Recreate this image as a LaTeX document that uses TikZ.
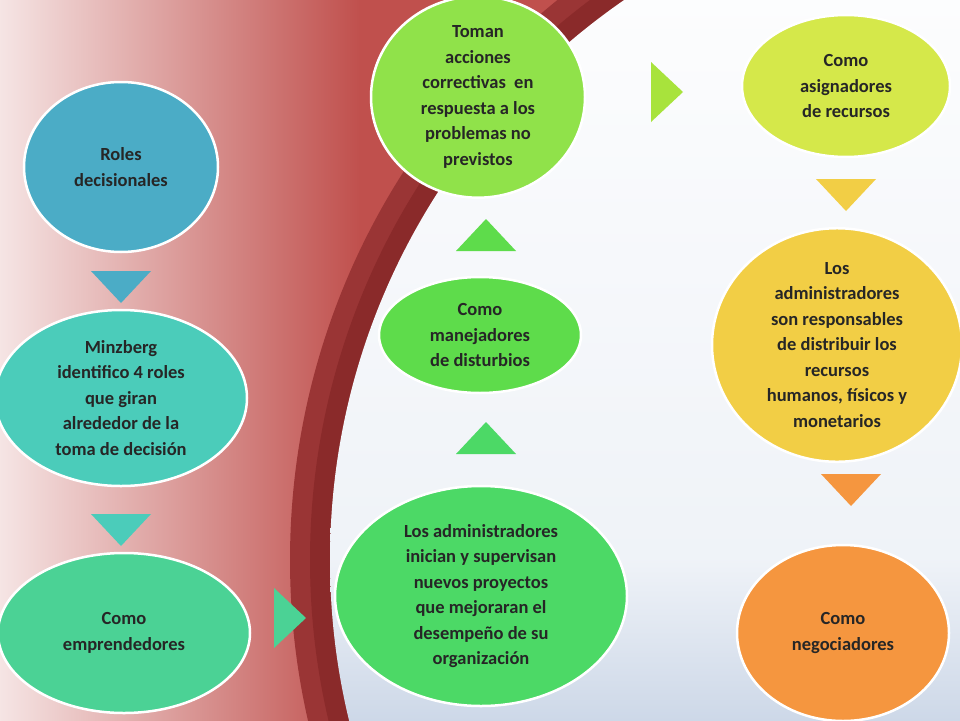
\documentclass[tikz,border=0pt]{standalone}
\usepackage{fontspec}
\setmainfont{Carlito}
\usetikzlibrary{shapes.geometric}
\definecolor{cA}{HTML}{4BACC6}
\definecolor{cB}{HTML}{4BCCBA}
\definecolor{cC}{HTML}{4BD295}
\definecolor{cD}{HTML}{4CD966}
\definecolor{cE}{HTML}{5EDC4B}
\definecolor{cF}{HTML}{90E24A}
\definecolor{cG}{HTML}{D5E84A}
\definecolor{cH}{HTML}{F2CE45}
\definecolor{cI}{HTML}{F5963F}
\definecolor{cJ}{HTML}{A8E33C}
\definecolor{bgred}{HTML}{C0504D}
\definecolor{dred}{HTML}{8A2A2A}
\definecolor{sblue}{HTML}{5F82B5}
\begin{document}
\begin{tikzpicture}[x=1pt,y=-1pt,
  el/.style={ellipse,draw=white,line width=2.5pt,align=center,inner sep=0pt,
    font=\bfseries\fontsize{18.5}{25.5}\selectfont,text=black!85}]
\useasboundingbox (0,0) rectangle (960,720);
\shade[left color=white!85!bgred,right color=bgred] (0,0) rectangle (360,720);
\fill[bgred] (359,0) rectangle (960,720);
\begin{scope}
\clip (0,0) rectangle (960,720);
\fill[dred!70!bgred] (1010,560) circle[radius=720];
\fill[dred] (1010,560) circle[radius=700];
\shade[shading angle=135,top color=white,bottom color=sblue,middle color=white!90!sblue] (1010,560) circle[radius=680];
\end{scope}
% ellipses
\node[el,fill=cA,minimum width=194pt,minimum height=170pt] (n1) at (121,167) {Roles\\decisionales};
\node[el,fill=cB,minimum width=252pt,minimum height=176pt] (n2) at (121,398) {Minzberg\\identifico 4 roles\\que giran\\alrededor de la\\toma de decisión};
\node[el,fill=cC,minimum width=252pt,minimum height=160pt] (n3) at (124,633) {Como\\emprendedores};
\node[el,fill=cD,minimum width=292pt,minimum height=220pt] (n4) at (481,596) {Los administradores\\inician y supervisan\\nuevos proyectos\\que mejoraran el\\desempeño de su\\organización};
\node[el,fill=cE,minimum width=202pt,minimum height=116pt] (n5) at (480,335) {Como\\manejadores\\de disturbios};
\node[el,fill=cF,minimum width=214pt,minimum height=186pt] (n6) at (478,97) {Toman\\acciones\\correctivas~ en\\respuesta a los\\problemas no\\previstos};
\node[el,fill=cG,minimum width=208pt,minimum height=142pt] (n7) at (846,86) {Como\\asignadores\\de recursos};
\node[el,fill=cH,minimum width=250pt,minimum height=226pt] (n8) at (837,345) {Los\\administradores\\son responsables\\de distribuir los\\recursos\\humanos, físicos y\\monetarios};
\node[el,fill=cI,minimum width=212pt,minimum height=176pt] (n9) at (843,633) {Como\\negociadores};
% triangles
\coordinate (t1) at (121,287); \coordinate (t2) at (121,530); \coordinate (t3) at (290,618);
\coordinate (t4) at (486,438); \coordinate (t5) at (486,235); \coordinate (t6) at (667,92);
\coordinate (t7) at (846,195); \coordinate (t8) at (851,490);
\fill[cA] ([shift={(-30,-16)}]t1) -- ([shift={(30,-16)}]t1) -- ([shift={(0,16)}]t1) -- cycle;
\fill[cB] ([shift={(-30,-16)}]t2) -- ([shift={(30,-16)}]t2) -- ([shift={(0,16)}]t2) -- cycle;
\fill[cC] ([shift={(-16,-30)}]t3) -- ([shift={(16,0)}]t3) -- ([shift={(-16,30)}]t3) -- cycle;
\fill[cD] ([shift={(-30,16)}]t4) -- ([shift={(30,16)}]t4) -- ([shift={(0,-16)}]t4) -- cycle;
\fill[cE] ([shift={(-30,16)}]t5) -- ([shift={(30,16)}]t5) -- ([shift={(0,-16)}]t5) -- cycle;
\fill[cJ] ([shift={(-16,-30)}]t6) -- ([shift={(16,0)}]t6) -- ([shift={(-16,30)}]t6) -- cycle;
\fill[cH] ([shift={(-30,-16)}]t7) -- ([shift={(30,-16)}]t7) -- ([shift={(0,16)}]t7) -- cycle;
\fill[cI] ([shift={(-30,-16)}]t8) -- ([shift={(30,-16)}]t8) -- ([shift={(0,16)}]t8) -- cycle;
\end{tikzpicture}
\end{document}
